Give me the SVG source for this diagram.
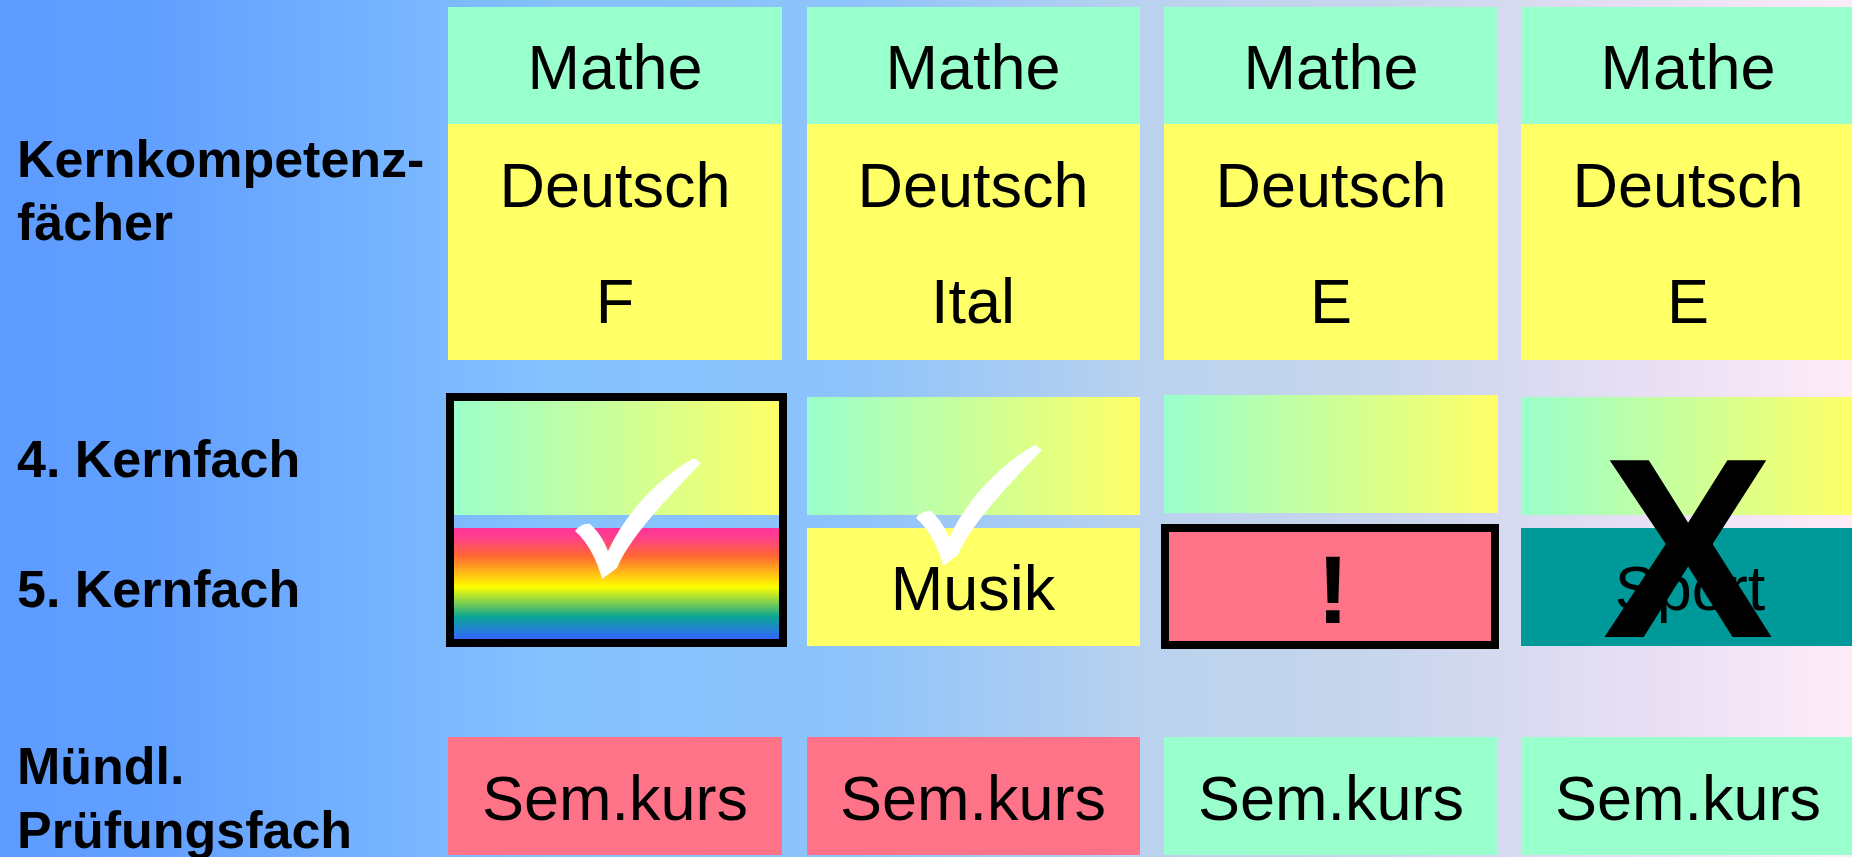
<svg xmlns="http://www.w3.org/2000/svg" width="1852" height="857" viewBox="0 0 1852 857">
  <style>
    .lbl { font-family: "Liberation Sans", Arial, sans-serif; font-weight: bold; font-size: 52px; fill: #000; }
    .cell { font-family: "Liberation Sans", Arial, sans-serif; font-size: 63px; fill: #000; text-anchor: middle; }
    .green { fill: #99FFCC; }
    .yellow { fill: #FFFF66; }
    .pink { fill: #FF7389; }
    .teal { fill: #009999; }
    .fade { fill: url(#fade); }
    .frame { fill: none; stroke: #000; stroke-width: 8; }
    .tick { fill: #FFFFFF; }
  </style>
  <defs>
    <linearGradient id="bg" x1="0" y1="0" x2="1" y2="0">
      <stop offset="0" stop-color="#5D9CFF"/>
      <stop offset="0.08" stop-color="#619FFF"/>
      <stop offset="0.3" stop-color="#85C2FF"/>
      <stop offset="0.46" stop-color="#8EC3FB"/>
      <stop offset="0.62" stop-color="#BAD2EE"/>
      <stop offset="0.75" stop-color="#C8D6EC"/>
      <stop offset="0.88" stop-color="#E6DEF4"/>
      <stop offset="1" stop-color="#FEEBF8"/>
    </linearGradient>
    <linearGradient id="fade" x1="0" y1="0" x2="1" y2="0">
      <stop offset="0" stop-color="#99FFCC"/>
      <stop offset="1" stop-color="#FFFF66"/>
    </linearGradient>
    <linearGradient id="rainbow" x1="0" y1="0" x2="0" y2="1">
      <stop offset="0" stop-color="#FF3399"/>
      <stop offset="0.08" stop-color="#FF3E8E"/>
      <stop offset="0.25" stop-color="#FF6633"/>
      <stop offset="0.53" stop-color="#FFFF00"/>
      <stop offset="0.8" stop-color="#0AA595"/>
      <stop offset="1" stop-color="#3366FF"/>
    </linearGradient>
    <path id="check" d="M 694,458 L 701,463 C 680,485 630,535 617,568 L 602,579 C 598,562 588,542 575,531 C 579,526 585,523 590,524 C 597,530 604,540 608,551 C 625,515 655,480 694,458 Z"/>
  </defs>

  <rect x="0" y="0" width="1852" height="857" fill="url(#bg)"/>

  <!-- row labels -->
  <g id="labels">
    <text class="lbl" x="17" y="177">Kernkompetenz-</text>
    <text class="lbl" x="17" y="240">fächer</text>
    <text class="lbl" x="17" y="477">4. Kernfach</text>
    <text class="lbl" x="17" y="607">5. Kernfach</text>
    <text class="lbl" x="17" y="784">Mündl.</text>
    <text class="lbl" x="17" y="848">Prüfungsfach</text>
  </g>

  <!-- column 1 -->
  <g id="col1">
    <rect class="green" x="448" y="7" width="334" height="117"/>
    <rect class="yellow" x="448" y="124" width="334" height="236"/>
    <text class="cell" x="615" y="89">Mathe</text>
    <text class="cell" x="615" y="207">Deutsch</text>
    <text class="cell" x="615" y="323">F</text>
    <rect class="fade" x="448" y="397" width="334" height="118"/>
    <rect x="448" y="528" width="334" height="111" fill="url(#rainbow)"/>
    <rect class="frame" x="450" y="397" width="333" height="246"/>
    <use href="#check" class="tick"/>
    <rect class="pink" x="448" y="737" width="334" height="118"/>
    <text class="cell" x="615" y="820">Sem.kurs</text>
  </g>

  <!-- column 2 -->
  <g id="col2">
    <rect class="green" x="807" y="7" width="333" height="117"/>
    <rect class="yellow" x="807" y="124" width="333" height="236"/>
    <text class="cell" x="973" y="89">Mathe</text>
    <text class="cell" x="973" y="207">Deutsch</text>
    <text class="cell" x="973" y="323">Ital</text>
    <rect class="fade" x="807" y="397" width="333" height="118"/>
    <rect class="yellow" x="807" y="528" width="333" height="118"/>
    <text class="cell" x="973" y="610">Musik</text>
    <use href="#check" class="tick" transform="translate(341,-13)"/>
    <rect class="pink" x="807" y="737" width="333" height="118"/>
    <text class="cell" x="973" y="820">Sem.kurs</text>
  </g>

  <!-- column 3 -->
  <g id="col3">
    <rect class="green" x="1164" y="7" width="334" height="117"/>
    <rect class="yellow" x="1164" y="124" width="334" height="236"/>
    <text class="cell" x="1331" y="89">Mathe</text>
    <text class="cell" x="1331" y="207">Deutsch</text>
    <text class="cell" x="1331" y="323">E</text>
    <rect class="fade" x="1164" y="395" width="334" height="118"/>
    <rect class="pink frame" x="1165" y="528" width="330" height="117" style="fill:#FF7389"/>
    <text x="1333" y="623" font-family="Liberation Sans, Arial, sans-serif" font-weight="bold" font-size="96" text-anchor="middle">!</text>
    <rect class="green" x="1164" y="737" width="334" height="118"/>
    <text class="cell" x="1331" y="820">Sem.kurs</text>
  </g>

  <!-- column 4 -->
  <g id="col4">
    <rect class="green" x="1521" y="7" width="334" height="117"/>
    <rect class="yellow" x="1521" y="124" width="334" height="236"/>
    <text class="cell" x="1688" y="89">Mathe</text>
    <text class="cell" x="1688" y="207">Deutsch</text>
    <text class="cell" x="1688" y="323">E</text>
    <rect class="fade" x="1521" y="397" width="334" height="118"/>
    <rect class="teal" x="1521" y="528" width="334" height="118"/>
    <text class="cell" x="1690" y="610">Sport</text>
    <text x="1688" y="637" font-family="Liberation Sans, Arial, sans-serif" font-weight="bold" font-size="257" text-anchor="middle">X</text>
    <rect class="green" x="1521" y="737" width="334" height="118"/>
    <text class="cell" x="1688" y="820">Sem.kurs</text>
  </g>
</svg>
